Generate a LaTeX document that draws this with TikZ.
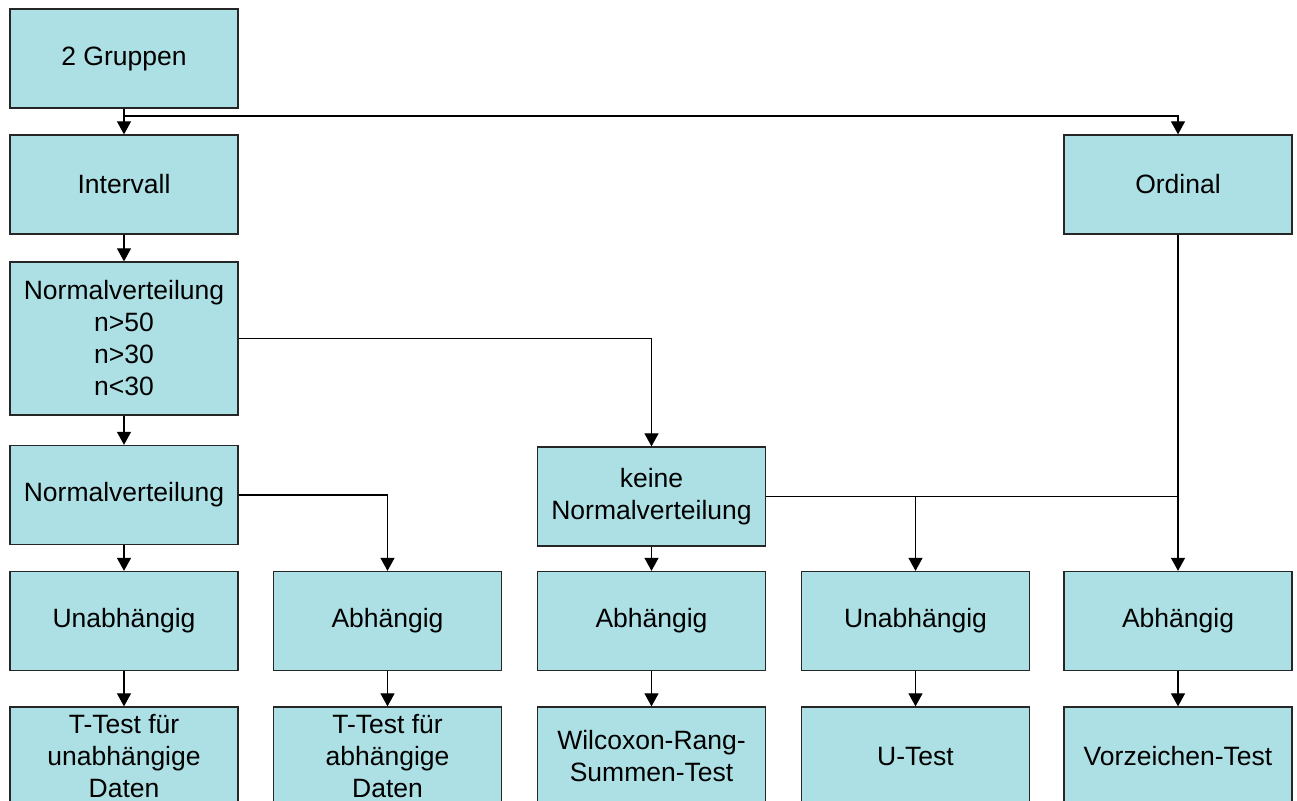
\documentclass[tikz,border=0pt]{standalone}
\usepackage{fontspec}
\setmainfont{Liberation Sans}
\usetikzlibrary{arrows.meta}
\definecolor{boxfill}{RGB}{172,224,228}
\tikzset{
  stepbox/.style={draw=black!85, line width=1.3pt, fill=boxfill, minimum width=228pt,
    minimum height=99pt, inner sep=0pt, align=center,
    font=\fontsize{26.5}{32}\selectfont},
  conn/.style={line width=1.2pt, draw=black},
  arr/.style={conn, -{Triangle[width=14pt,length=13pt]}}
}
\begin{document}
\begin{tikzpicture}[x=1pt,y=-1pt]
\clip (0,0) rectangle (1297,800);
\fill[white] (0,0) rectangle (1297,800);
% row 1-4
\node[stepbox] (g) at (124,58.5) {2 Gruppen};
\node[stepbox] (interv) at (124,184.5) {Intervall};
\node[stepbox] (ordinal) at (1178,184.5) {Ordinal};
\node[stepbox, minimum height=153pt] (nv1) at (124,338.5) {Normalverteilung\\n>50\\n>30\\n<30};
\node[stepbox] (nv2) at (124,495) {Normalverteilung};
\node[stepbox] (keine) at (651.5,496.5) {keine\\Normalverteilung};
% row 5
\node[stepbox] (un1) at (124,621) {Unabhängig};
\node[stepbox] (ab1) at (387.5,621) {Abhängig};
\node[stepbox] (ab2) at (651.5,621) {Abhängig};
\node[stepbox] (un2) at (915.5,621) {Unabhängig};
\node[stepbox] (ab3) at (1178,621) {Abhängig};
% row 6
\node[stepbox] (t1) at (124,756.5) {T-Test für\\unabhängige\\Daten};
\node[stepbox] (t2) at (387.5,756.5) {T-Test für\\abhängige\\Daten};
\node[stepbox] (t3) at (651.5,756.5) {Wilcoxon-Rang-\\Summen-Test};
\node[stepbox] (t4) at (915.5,756.5) {U-Test};
\node[stepbox] (t5) at (1178,756.5) {Vorzeichen-Test};
% connectors
\coordinate (j1) at (124,116);
\draw[arr] (g.south) -- (interv.north);
\draw[arr] (j1) -| (ordinal.north);
\draw[arr] (interv.south) -- (nv1.north);
\draw[arr] (nv1.east) -| (keine.north);
\draw[arr] (nv1.south) -- (nv2.north);
\draw[arr] (nv2.south) -- (un1.north);
\draw[arr] (nv2.east) -| (ab1.north);
\draw[arr] (keine.south) -- (ab2.north);
\draw[arr] (ordinal.south) -- (ab3.north);
\draw[conn] (keine.east) -- (ordinal.south |- keine.east);
\draw[arr] (un2.north |- keine.east) -- (un2.north);
\draw[arr] (un1.south) -- (t1.north);
\draw[arr] (ab1.south) -- (t2.north);
\draw[arr] (ab2.south) -- (t3.north);
\draw[arr] (un2.south) -- (t4.north);
\draw[arr] (ab3.south) -- (t5.north);
\end{tikzpicture}
\end{document}
